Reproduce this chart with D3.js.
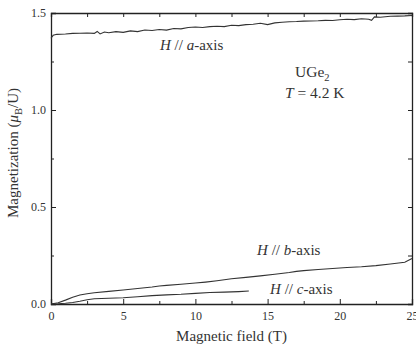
<!DOCTYPE html>
<html>
<head>
<meta charset="utf-8">
<script src="https://cdn.jsdelivr.net/npm/d3@7"></script>
<style>
  html, body { margin: 0; padding: 0; background: #fff; }
</style>
</head>
<body>
<svg id="chart" width="416" height="349"></svg>
<script>
// Magnetization curves of UGe2 at 4.2 K along the three crystal axes
const fieldA = [0,0.15,0.4,1,1.5,2,2.5,3,3.2,3.4,3.7,4,4.5,5,5.5,6,6.5,7,7.5,8,8.5,9,9.5,10,10.5,11,11.5,12,12.5,13,13.5,14,14.5,15,15.5,16,16.5,17,17.5,18,18.5,19,19.5,20,20.5,21,21.5,22,22.2,22.4,22.8,23.5,24,24.5,25];
const magA   = [1.37,1.385,1.39,1.392,1.395,1.396,1.397,1.395,1.405,1.392,1.402,1.398,1.404,1.400,1.408,1.404,1.412,1.41,1.415,1.412,1.42,1.418,1.425,1.428,1.425,1.43,1.432,1.43,1.437,1.435,1.44,1.442,1.447,1.44,1.449,1.452,1.455,1.456,1.458,1.459,1.46,1.462,1.461,1.465,1.468,1.466,1.47,1.468,1.462,1.48,1.478,1.483,1.484,1.485,1.487];

const fieldB = [0,0.5,1,1.5,2,2.5,3,4,5,6,7,7.5,8,9,10,10.7,11.5,12.5,13.5,14.5,15.5,16.5,17,17.5,18.5,19.5,20.5,21.5,22.5,23.5,24.5,25];
const magB   = [0,0.006,0.02,0.035,0.046,0.053,0.058,0.065,0.072,0.08,0.088,0.093,0.096,0.102,0.108,0.113,0.12,0.13,0.137,0.145,0.153,0.162,0.168,0.172,0.178,0.183,0.188,0.192,0.198,0.206,0.215,0.235];

const fieldC = [0,0.5,1,1.5,2,2.5,3,4,5,6,7,8,9,10,11,12,13,13.7];
const magC   = [0,0.001,0.004,0.008,0.014,0.022,0.027,0.03,0.032,0.037,0.043,0.047,0.05,0.055,0.059,0.061,0.064,0.067];

const xTicks = [0,5,10,15,20,25];
const yTicks = [0.0,0.5,1.0,1.5];
const xMinor = [2.5,7.5,12.5,17.5,22.5];
const yMinor = [0.25,0.75,1.25];

const FONT = "'Liberation Serif', 'Times New Roman', 'DejaVu Serif', serif";
const TEXT = "#333";

const svg = d3.select("#chart");
const plotLeft = 51, plotRight = 412, plotTop = 13, plotBottom = 304;

const x = d3.scaleLinear().domain([0,25]).range([plotLeft,plotRight]);
const y = d3.scaleLinear().domain([0,1.5]).range([plotBottom,plotTop]);

const axisColor = "#222";
const styleAxis = g => {
  g.attr("font-family", FONT);
  g.select(".domain").attr("stroke", axisColor).attr("stroke-width", 1.3);
  g.selectAll(".tick line").attr("stroke", axisColor).attr("stroke-width", 1);
  g.selectAll("text").attr("font-family", FONT).attr("font-size", 12).attr("fill", TEXT);
};

// bottom axis with labels, inward ticks
svg.append("g").attr("transform", `translate(0,${plotBottom})`)
  .call(d3.axisBottom(x).tickValues(xTicks).tickSize(-5).tickPadding(7.5).tickFormat(d3.format("d")))
  .call(styleAxis);
svg.append("g").attr("transform", `translate(0,${plotBottom})`)
  .call(d3.axisBottom(x).tickValues(xMinor).tickSize(-3).tickFormat(""))
  .call(styleAxis).call(g => g.select(".domain").remove());

// left axis
svg.append("g").attr("transform", `translate(${plotLeft},0)`)
  .call(d3.axisLeft(y).tickValues(yTicks).tickSize(-5).tickPadding(5).tickFormat(d3.format(".1f")))
  .call(styleAxis);
svg.append("g").attr("transform", `translate(${plotLeft},0)`)
  .call(d3.axisLeft(y).tickValues(yMinor).tickSize(-3).tickFormat(""))
  .call(styleAxis).call(g => g.select(".domain").remove());

// top and right frame with ticks
svg.append("g").attr("transform", `translate(0,${plotTop})`)
  .call(d3.axisTop(x).tickValues(xTicks.concat(xMinor)).tickSize(-4).tickFormat(""))
  .call(styleAxis);
svg.append("g").attr("transform", `translate(${plotRight},0)`)
  .call(d3.axisRight(y).tickValues(yTicks.concat(yMinor)).tickSize(-4).tickFormat(""))
  .call(styleAxis);

// curves
const line = d3.line().x(d => x(d[0])).y(d => y(d[1]));
const series = [
  d3.zip(fieldA, magA),
  d3.zip(fieldB, magB),
  d3.zip(fieldC, magC)
];
svg.append("g").selectAll("path").data(series).join("path")
  .attr("d", line)
  .attr("fill", "none")
  .attr("stroke", "#333")
  .attr("stroke-width", 1.1);

// annotations
const label = (xp, yp, size) => svg.append("text")
  .attr("x", xp).attr("y", yp)
  .attr("font-family", FONT).attr("font-size", size).attr("fill", TEXT);

function axisLabel(xp, yp, letter) {
  const t = label(xp, yp, 15);
  t.append("tspan").attr("font-style", "italic").text("H");
  t.append("tspan").text(" // ");
  t.append("tspan").attr("font-style", "italic").text(letter);
  t.append("tspan").text("-axis");
}
axisLabel(x(7.55), y(1.309), "a");
axisLabel(x(14.27), y(0.253), "b");
axisLabel(x(15.17), y(0.052), "c");

const ug = label(295, 77, 15.5);
ug.append("tspan").text("UGe");
ug.append("tspan").attr("font-size", 10.5).attr("dy", 3.5).text("2");

const tt = label(285, 98, 15.5);
tt.append("tspan").attr("font-style", "italic").text("T");
tt.append("tspan").text(" = 4.2 K");

// axis titles
label((plotLeft + plotRight) / 2, 341, 15)
  .attr("text-anchor", "middle").text("Magnetic field (T)");

const yt = label(0, 0, 15).attr("transform", "translate(18,153) rotate(-90)")
  .attr("text-anchor", "middle");
yt.append("tspan").text("Magnetization (");
yt.append("tspan").attr("font-style", "italic").text("μ");
yt.append("tspan").attr("font-size", 10.5).attr("dy", 3.5).text("B");
yt.append("tspan").attr("dy", -3.5).text("/U)");
</script>
</body>
</html>
